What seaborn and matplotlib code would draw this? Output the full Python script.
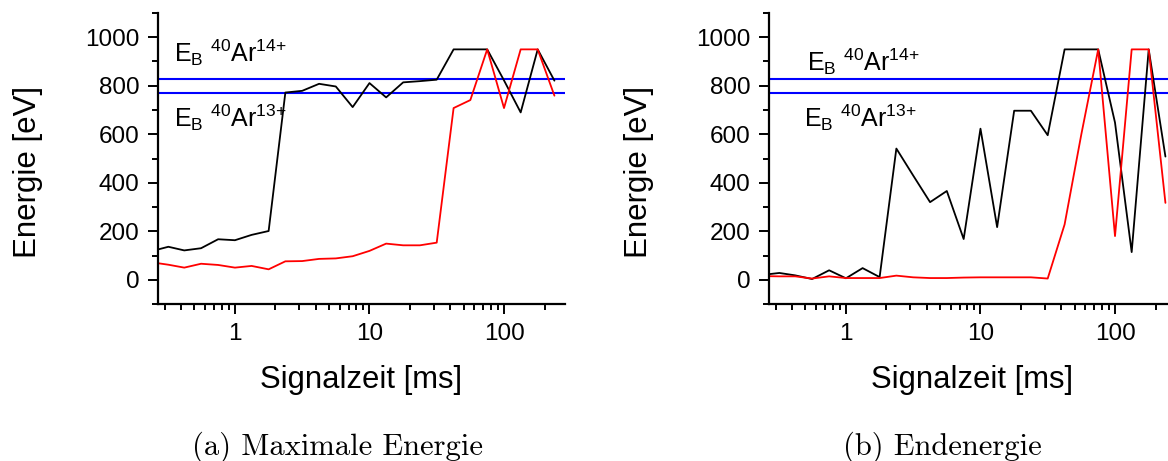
import matplotlib
matplotlib.use("Agg")
import matplotlib.pyplot as plt
import matplotlib.ticker as mticker
import seaborn as sns
import pandas as pd

# ---- data ----
signalzeit = [0.24, 0.32, 0.42, 0.56, 0.75, 1.0, 1.33, 1.78, 2.37, 3.16, 4.22, 5.62,
              7.5, 10.0, 13.3, 17.8, 23.7, 31.6, 42.2, 56.2, 75.0, 100.0, 133.0, 178.0, 237.0]

max_black = [118, 136, 121, 130, 167, 163, 185, 201, 772, 779, 808, 797,
             712, 811, 752, 814, 819, 825, 950, 950, 950, 822, 690, 950, 821]
max_red = [72, 62, 50, 66, 61, 50, 57, 43, 76, 77, 86, 88,
           97, 119, 149, 142, 142, 153, 708, 741, 950, 708, 950, 950, 759]

end_black = [20, 28, 18, 3, 39, 6, 48, 11, 541, 430, 320, 366,
             168, 623, 217, 697, 697, 596, 950, 950, 950, 648, 114, 950, 508]
end_red = [15, 14, 14, 5, 14, 7, 7, 7, 17, 10, 7, 7,
           9, 10, 10, 10, 10, 5, 228, 600, 950, 180, 950, 950, 317]

eb_levels = [827, 769]          # E_B 40Ar14+, 40Ar13+
eb_labels = [r"$\mathrm{E_B}\ ^{40}\mathrm{Ar}^{14{+}}$", r"$\mathrm{E_B}\ ^{40}\mathrm{Ar}^{13{+}}$"]
captions = ["(a) Maximale Energie", "(b) Endenergie"]
xlabel = "Signalzeit [ms]"
ylabel = "Energie [eV]"

sns.set_theme(style="ticks")
plt.rcParams["font.family"] = ["Liberation Sans", "DejaVu Sans"]
plt.rcParams["mathtext.fontset"] = "custom"
plt.rcParams["mathtext.rm"] = "Liberation Sans"
plt.rcParams["mathtext.it"] = "Liberation Sans:italic"
plt.rcParams["mathtext.bf"] = "Liberation Sans:bold"

W, H = 1168, 461
fig = plt.figure(figsize=(W / 100, H / 100), dpi=100)

panels = [
    (158, max_black, max_red, [(0.355, 897), (0.35, 632)], captions[0], 337),
    (769, end_black, end_red, [(0.51, 860), (0.49, 632)], captions[1], 942),
]

for left_px, blk, red, txtpos, cap, cap_x in panels:
    ax = fig.add_axes([left_px / W, (H - 304) / H, 407 / W, 291 / H])
    df = pd.DataFrame({"t": signalzeit, "black": blk, "red": red})
    sns.lineplot(data=df, x="t", y="black", color="black", lw=1.3, ax=ax)
    sns.lineplot(data=df, x="t", y="red", color="#ff0000", lw=1.3, ax=ax)
    for lvl in eb_levels:
        ax.axhline(lvl, color="#0000ff", lw=1.5, zorder=1)
    ax.set_xscale("log")
    ax.set_xlim(0.268, 284)
    ax.set_ylim(-100, 1100)
    ax.yaxis.set_major_locator(mticker.FixedLocator([0, 200, 400, 600, 800, 1000]))
    ax.yaxis.set_minor_locator(mticker.FixedLocator([-100, 100, 300, 500, 700, 900, 1100]))
    ax.xaxis.set_major_locator(mticker.FixedLocator([1, 10, 100]))
    ax.xaxis.set_major_formatter(mticker.FixedFormatter(["1", "10", "100"]))
    ax.xaxis.set_minor_locator(mticker.LogLocator(base=10, subs=range(2, 10), numticks=20))
    ax.xaxis.set_minor_formatter(mticker.NullFormatter())
    for s in ["top", "right"]:
        ax.spines[s].set_visible(False)
    for s in ["left", "bottom"]:
        ax.spines[s].set_linewidth(1.6)
        ax.spines[s].set_color("black")
    ax.tick_params(axis="both", which="major", length=7.5, width=1.4, color="black",
                   labelsize=17.5, labelcolor="black", direction="out")
    ax.tick_params(axis="both", which="minor", length=4, width=1.4, color="black", direction="out")
    ax.tick_params(axis="y", which="major", pad=6)
    ax.tick_params(axis="x", which="major", pad=6)
    ax.set_xlabel(xlabel, fontsize=22.3, color="black")
    ax.set_ylabel(ylabel, fontsize=22.5, color="black")
    ax.xaxis.set_label_coords(0.5, -0.21)
    ax.yaxis.set_label_coords(-0.283, 0.455)
    ax.grid(False)
    for (tx, ty), lab in zip(txtpos, eb_labels):
        ax.text(tx, ty, lab, fontsize=18, color="black", ha="left", va="baseline")
    fig.text(cap_x / W, (H - 455) / H, cap, fontfamily="cmr10", fontsize=22,
             ha="center", va="baseline", color="black")

fig.savefig("out.png", dpi=100, facecolor="white")
